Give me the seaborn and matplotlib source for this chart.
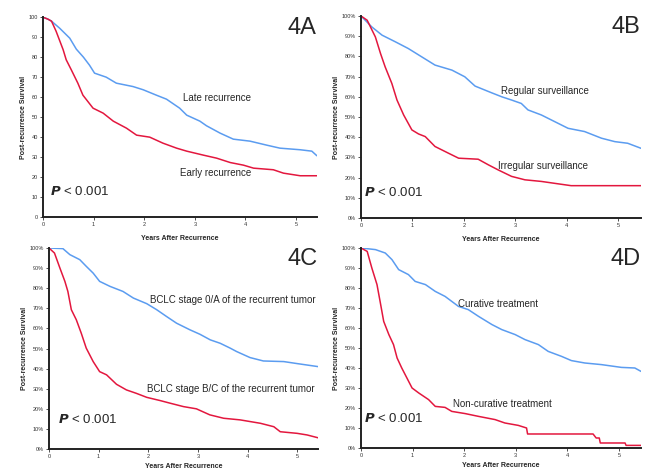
import pandas as pd
import matplotlib
matplotlib.use("Agg")
import matplotlib.pyplot as plt
import seaborn as sns

# Kaplan-Meier curves (years after recurrence, survival %)
a_late_t = [0, 0.1, 0.17, 0.33, 0.43, 0.53, 0.66, 0.8, 0.92, 1.02, 1.25, 1.45, 1.78, 1.98, 2.24, 2.44,
            2.7, 2.84, 3.1, 3.23, 3.5, 3.76, 4.09, 4.42, 4.68, 5.08, 5.31, 5.41]
a_late_s = [100, 99, 98, 94.5, 92, 89.5, 84, 80, 76, 72, 70, 67, 65.3, 63.7, 61, 59,
            54.5, 51, 48, 45.7, 42, 39, 38, 36, 34.5, 33.7, 33, 30.7]
a_early_t = [0, 0.1, 0.17, 0.26, 0.4, 0.46, 0.56, 0.69, 0.79, 0.99, 1.19, 1.39, 1.65, 1.85, 2.11, 2.37,
             2.64, 2.84, 3.17, 3.43, 3.7, 3.96, 4.16, 4.55, 4.75, 5.08, 5.41]
a_early_s = [100, 99, 98, 93, 83.7, 78.7, 73.7, 67, 61, 54.5, 52, 48, 44.5, 41, 40, 37,
             34.5, 33, 31, 29.5, 27.3, 26, 24.5, 23.7, 22, 20.7, 20.7]

b_reg_t = [0, 0.21, 0.41, 0.67, 0.92, 1.18, 1.44, 1.77, 2.02, 2.22, 2.54, 2.74, 2.93, 3.12, 3.25,
           3.51, 3.77, 4.03, 4.35, 4.68, 4.94, 5.19, 5.45]
b_reg_s = [100, 94.6, 90.5, 87.2, 83.9, 79.8, 75.7, 73.2, 69.9, 65.3, 62, 60, 58.4, 56.7, 53.5,
           51, 47.7, 44.4, 42.8, 39.5, 37.8, 37, 34.5]
b_irr_t = [0, 0.12, 0.28, 0.38, 0.47, 0.6, 0.7, 0.83, 0.99, 1.12, 1.25, 1.44, 1.7, 1.9, 2.28, 2.48,
           2.67, 2.93, 3.19, 3.51, 3.84, 4.09, 5.45]
b_irr_s = [100, 97.9, 89.6, 81.4, 74.8, 66.6, 58.4, 51, 43.6, 41.6, 40.3, 35.4, 32.1, 29.6, 29.1, 26.3,
           23.8, 20.6, 18.9, 18.1, 16.9, 16, 16]

c_oa_t = [0, 0.28, 0.42, 0.62, 0.75, 0.89, 1.02, 1.23, 1.49, 1.7, 1.97, 2.17, 2.37, 2.57, 2.84,
          3.04, 3.25, 3.45, 3.65, 3.78, 4.05, 4.32, 4.73, 5.0, 5.42]
c_oa_s = [100, 99.7, 96.7, 94.2, 90.9, 87.5, 83.4, 80.9, 78.4, 75.1, 72.3, 69.3, 65.9, 62.6, 59.3,
          57.1, 54.3, 52.6, 50.2, 48.5, 45.5, 43.8, 43.5, 42.5, 41]
c_bc_t = [0, 0.11, 0.22, 0.32, 0.38, 0.45, 0.55, 0.65, 0.75, 0.89, 1.02, 1.16, 1.36, 1.56, 1.76, 1.97,
          2.24, 2.44, 2.71, 2.97, 3.24, 3.52, 3.85, 4.26, 4.53, 4.66, 5.0, 5.2, 5.42]
c_bc_s = [100, 97.5, 90, 83.4, 78.4, 69.3, 64.3, 57.6, 50.2, 43.5, 38.5, 36.9, 32.2, 29.4, 27.7, 25.7,
          24.1, 22.8, 21.1, 20, 17, 15.3, 14.5, 12.8, 11.1, 8.6, 7.8, 7, 5.6]

d_cur_t = [0, 0.28, 0.47, 0.6, 0.73, 0.92, 1.05, 1.25, 1.44, 1.63, 1.89, 2.08, 2.28, 2.54, 2.73,
           2.99, 3.18, 3.44, 3.63, 3.89, 4.08, 4.34, 4.66, 5.05, 5.31, 5.43]
d_cur_s = [100, 99.2, 97.5, 94.2, 89.2, 86.7, 83.3, 81.7, 78.3, 75.8, 70.8, 69.2, 65.8, 61.7, 59.2,
           56.7, 54.2, 51.7, 48.3, 45.8, 43.7, 42.5, 41.7, 40.3, 40, 38.3]
d_non_t = [0, 0.12, 0.21, 0.31, 0.37, 0.44, 0.54, 0.63, 0.7, 0.79, 0.89, 0.99, 1.12, 1.31, 1.44, 1.63,
           1.76, 2.02, 2.28, 2.6, 2.79, 3.05, 3.21, 3.23, 4.5, 4.56, 4.62, 4.64, 5.12, 5.14, 5.43]
d_non_s = [100, 98.3, 90, 81.7, 73.3, 63.3, 56.7, 51.7, 45, 40, 35, 30, 27.5, 24.2, 20.8, 20.3,
           18.3, 17.2, 15.8, 14.2, 12.5, 11.3, 10, 7, 7, 5, 5, 2.5, 2.5, 1.3, 1.3]

panels = [
    dict(tag="4A", rect=[0.066, 0.537, 0.4215, 0.4264], xmax=5.41, pct=False, xpad=6,
         curves=[(a_late_t, a_late_s, "Late recurrence"), (a_early_t, a_early_s, "Early recurrence")],
         labels=[(2.77, 59.5), (2.71, 21.9)], pval=(0.14, 12.9)),
    dict(tag="4B", rect=[0.5554, 0.5352, 0.4308, 0.4307], xmax=5.45, pct=True, xpad=6,
         curves=[(b_reg_t, b_reg_s, "Regular surveillance"), (b_irr_t, b_irr_s, "Irregular surveillance")],
         labels=[(2.72, 62.8), (2.67, 25.7)], pval=(0.06, 12.4)),
    dict(tag="4C", rect=[0.0754, 0.0426, 0.4138, 0.4286], xmax=5.42, pct=True, xpad=3,
         curves=[(c_oa_t, c_oa_s, "BCLC stage 0/A of the recurrent tumor"),
                 (c_bc_t, c_bc_s, "BCLC stage B/C of the recurrent tumor")],
         labels=[(2.04, 73.9), (1.98, 29.9)], pval=(0.18, 14.9)),
    dict(tag="4D", rect=[0.5554, 0.0448, 0.4308, 0.4264], xmax=5.43, pct=True, xpad=3,
         curves=[(d_cur_t, d_cur_s, "Curative treatment"), (d_non_t, d_non_s, "Non-curative treatment")],
         labels=[(1.88, 72.2), (1.79, 22.2)], pval=(0.06, 14.7)),
]

sns.set_style("ticks")
plt.rcParams["font.family"] = ["Liberation Sans", "DejaVu Sans"]

colors = ["#5b9cf0", "#e3173e"]
fig = plt.figure(figsize=(6.5, 4.69), dpi=100)

for p in panels:
    ax = fig.add_axes(p["rect"])
    rows = []
    for t, s, name in p["curves"]:
        rows += [{"years": a, "surv": b, "group": name} for a, b in zip(t, s)]
    df = pd.DataFrame(rows)
    sns.lineplot(data=df, x="years", y="surv", hue="group", palette=colors,
                 estimator=None, sort=False, linewidth=1.1, legend=False, ax=ax)
    ax.set_xlim(0, p["xmax"])
    ax.set_ylim(0, 100)
    ax.set_xticks(range(6))
    ax.set_yticks(range(0, 101, 10))
    if p["pct"]:
        ax.set_yticklabels([f"{v}%" for v in range(0, 101, 10)])
    ax.tick_params(labelsize=4, length=2, width=0.6, pad=1.5, colors="#333333")
    for side in ["left", "bottom"]:
        ax.spines[side].set_linewidth(1.4)
        ax.spines[side].set_color("#222222")
    sns.despine(ax=ax)
    ax.set_xlabel("Years After Recurrence", fontsize=5, fontweight="bold", labelpad=p["xpad"])
    ax.set_ylabel("Post-recurrence Survival", fontsize=5, fontweight="bold", labelpad=1)

    for (lx, ly), (_, _, name) in zip(p["labels"], p["curves"]):
        ax.text(lx, ly, name, fontsize=7, va="center", ha="left")
    ax.text(p["pval"][0], p["pval"][1], r"$\bfit{P}$ < 0.001", fontsize=9.5, va="center", ha="left")
    ax.text(0.998, 1.0, p["tag"], transform=ax.transAxes, fontsize=17, va="top", ha="right")

fig.savefig("out.png", dpi=100)
